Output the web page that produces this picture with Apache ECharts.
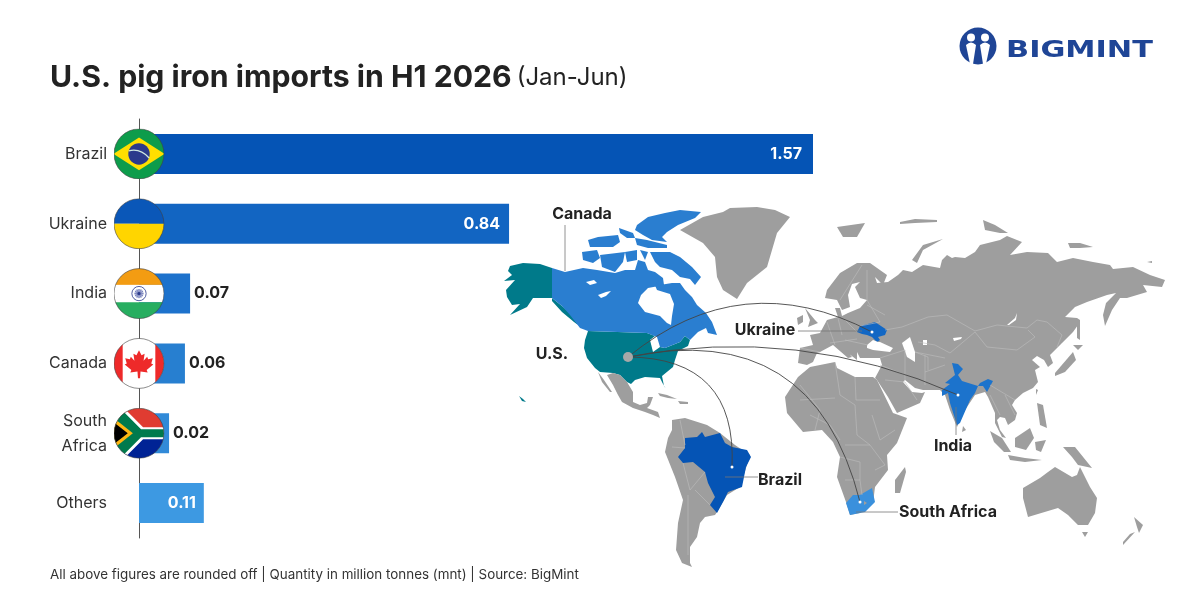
<!DOCTYPE html>
<html><head><meta charset="utf-8">
<style>html,body{margin:0;padding:0;background:#fff}#c{width:1200px;height:600px}</style>
<script src="https://cdn.jsdelivr.net/npm/echarts@6/dist/echarts.min.js"></script>
</head><body><div id="c"></div>
<script>
// ---------- chart data ----------
const categories = ['Brazil','Ukraine','India','Canada','South Africa','Others'];
// figures printed on the bars (mnt)
const printedValues = [1.57,0.84,0.07,0.06,0.02,0.11];
// bar lengths as actually drawn in the reference (it does not draw small bars to scale), on the Brazil bar's scale
const barLengths = [1.57,0.862,0.119,0.107,0.07,0.151];
const barColors = ['#0554b5','#1265c2','#1d72cc','#277fd0','#318ad8','#3d99e2'];
const labelInside = [true,true,false,false,false,true];
const labelGap = [11,9,4,4,4,8];

// ---------- flags ----------
const clip = b => `<svg xmlns="http://www.w3.org/2000/svg" width="200" height="200" viewBox="0 0 100 100"><defs><clipPath id="k"><circle cx="50" cy="50" r="49"/></clipPath></defs><g clip-path="url(#k)">${b}</g><circle cx="50" cy="50" r="49" fill="none" stroke="#444" stroke-width="1.2"/></svg>`;
const spokes = Array.from({length:12},(_,i)=>`<line x1="50" y1="50" x2="50" y2="41" stroke="#2b3a8c" stroke-width=".8" transform="rotate(${i*30} 50 50)"/>`).join('');
const flags = {
 Brazil: `<rect width="100" height="100" fill="#0d9c4b"/><polygon points="0,50 50,18 100,50 50,82" fill="#ffdf00"/><circle cx="50" cy="50" r="21" fill="#2b3a8c"/><path d="M30 44 Q52 38 70 58" stroke="#cfe8e0" stroke-width="2.5" fill="none"/>`,
 Ukraine: `<rect width="100" height="50" fill="#0a57b8"/><rect y="50" width="100" height="50" fill="#ffd500"/>`,
 India: `<rect width="100" height="33" fill="#f39c12"/><rect y="33" width="100" height="34" fill="#fff"/><rect y="67" width="100" height="33" fill="#27ae60"/><circle cx="50" cy="50" r="14" fill="#fff" stroke="#2b3a8c" stroke-width="1.6"/><circle cx="50" cy="50" r="9" fill="#b9bfe0"/>${spokes}<circle cx="50" cy="50" r="3" fill="#2b3a8c"/>`,
 Canada: `<rect width="100" height="100" fill="#fff"/><rect width="18" height="100" fill="#ee2a2a"/><rect x="82" width="18" height="100" fill="#ee2a2a"/><path fill="#ee2a2a" d="M50 24l5 10 6-3-2 14 7-8 2 5 9-2-3 10 4 2-13 11 2 5-14-2 -1 13h-4l-1-13-14 2 2-5-13-11 4-2-3-10 9 2 2-5 7 8-2-14 6 3z"/>`,
 'South Africa': `<rect width="100" height="50" fill="#e03c31"/><rect y="50" width="100" height="50" fill="#002395"/><polygon points="0,0 20,0 58,38 100,38 100,62 58,62 20,100 0,100" fill="#fff"/><polygon points="0,6 12,0 54,42 100,42 100,58 54,58 12,100 0,94" fill="#007a4d"/><polygon points="0,20 38,50 0,80" fill="#ffb612"/><polygon points="0,28 28,50 0,72" fill="#000"/>`
};
const svgUri = s => 'image://data:image/svg+xml;charset=utf-8,' + encodeURIComponent(s);

// ---------- world outline ----------
const geoShapes = {
 Greenland:[[[730,208],[757,207],[775,210],[790,217],[777,233],[772,250],[767,267],[747,283],[737,299],[723,290],[717,277],[715,257],[703,243],[680,230],[703,217],[723,212]]],
 Alaska:[[[552,268],[540,264],[523,263],[510,266],[508,271],[512,275],[504,281],[515,280],[506,290],[507,297],[512,305],[520,304],[510,315],[527,307],[533,298],[552,298],[562,306],[572,315],[578,325],[574,322],[562,312],[552,301]]],
 Hawaii:[[[519,396],[523,399],[526,402],[522,401]]],
 USA:[[[588,331],[647,333],[655,336],[650,340],[653,352],[660,347],[665,348],[680,342],[685,336],[690,340],[688,346],[678,351],[675,360],[673,367],[662,376],[664,386],[666,389],[663,384],[660,378],[645,377],[635,380],[631,384],[627,382],[620,375],[613,373],[600,372],[595,368],[587,358],[584,348],[585,340]]],
 CanadaMain:[[[552,268],[565,272],[583,268],[597,270],[615,273],[625,270],[635,270],[638,260],[645,262],[648,270],[655,272],[663,278],[664,285],[648,288],[641,295],[638,303],[645,312],[660,316],[667,323],[671,325],[672,316],[674,304],[670,294],[657,290],[654,283],[660,285],[672,283],[680,283],[685,290],[692,297],[697,305],[706,313],[712,322],[717,335],[708,333],[706,328],[698,332],[690,340],[685,336],[680,342],[665,348],[660,347],[657,337],[647,333],[588,331],[580,328],[570,315],[562,306],[552,298]]],
 Baffin:[[[650,252],[670,252],[680,257],[692,267],[701,277],[695,285],[690,279],[680,277],[672,270],[660,267],[655,262]]],
 Ellesmere:[[[637,225],[648,217],[665,213],[680,210],[701,212],[695,218],[678,225],[667,232],[662,237],[667,242],[652,240],[643,235],[635,230]]],
 Devon:[[[635,238],[647,240],[667,245],[667,248],[648,248],[637,245]]],
 Axel:[[[619,228],[633,233],[635,238],[627,238],[620,233]]],
 Parry:[[[588,240],[598,237],[618,235],[620,242],[613,247],[600,247],[590,247]]],
 Banks:[[[582,252],[597,250],[600,258],[593,263],[583,260]]],
 Victoria:[[[600,255],[625,252],[623,262],[615,272],[602,267]]],
 PrinceWales:[[[625,252],[637,250],[637,260],[627,262]]],
 Somerset:[[[640,250],[648,252],[645,260]]],
 Southampton:[[[655,280],[662,282],[660,288]]],
 Newfoundland:[[[700,319],[707,317],[709,323],[703,325]]],
 Mexico:[[[598,372],[604,380],[612,392],[610,392],[602,382]],[[613,373],[620,375],[627,382],[633,392],[633,402],[640,405],[647,403],[648,397],[653,397],[650,405],[647,408],[658,412],[660,418],[653,415],[645,412],[633,408],[622,402],[618,395],[613,385],[607,375]]],
 Cuba:[[[658,393],[667,395],[677,399],[668,398],[660,396]]],
 Hispaniola:[[[678,401],[688,402],[688,404],[680,404]]],
 SouthAmerica:[[[672,420],[685,418],[707,425],[720,433],[735,445],[750,455],[746,468],[740,487],[727,495],[717,512],[715,515],[705,517],[700,523],[697,537],[690,547],[690,563],[692,567],[682,563],[676,550],[678,523],[683,500],[675,477],[665,452],[668,438],[672,430]]],
 Brazil:[[[685,438],[697,437],[702,432],[705,437],[720,433],[725,443],[732,447],[747,450],[751,457],[746,467],[742,487],[728,492],[723,502],[717,513],[710,505],[715,497],[708,483],[705,472],[693,462],[683,463],[678,457],[685,448]]],
 Eurasia:[[[798,363],[800,348],[813,345],[810,335],[820,333],[827,320],[838,317],[835,308],[840,308],[842,316],[848,313],[860,308],[867,300],[860,298],[855,287],[860,282],[852,284],[848,295],[850,307],[842,310],[837,300],[825,298],[827,290],[840,273],[857,263],[870,263],[887,275],[883,285],[875,277],[877,283],[888,282],[898,275],[903,270],[912,272],[923,265],[940,268],[942,260],[947,255],[952,258],[955,257],[965,258],[975,252],[980,245],[1000,240],[1007,236],[1022,242],[1010,255],[1027,252],[1048,253],[1057,262],[1073,258],[1093,262],[1110,265],[1113,269],[1133,267],[1150,275],[1165,280],[1162,287],[1143,285],[1147,292],[1127,298],[1120,298],[1112,310],[1105,326],[1103,315],[1106,303],[1116,293],[1107,295],[1087,302],[1075,307],[1065,317],[1077,318],[1078,325],[1073,332],[1062,343],[1050,355],[1053,363],[1048,367],[1044,360],[1037,356],[1032,360],[1040,367],[1035,370],[1038,382],[1033,388],[1023,393],[1015,400],[1012,405],[1017,413],[1015,420],[1008,425],[1005,418],[1000,417],[997,420],[1000,430],[1006,438],[1002,437],[995,423],[995,413],[988,397],[985,392],[975,395],[965,410],[957,427],[950,410],[945,395],[940,390],[923,390],[915,388],[905,380],[903,382],[912,392],[922,393],[925,392],[920,403],[897,413],[888,397],[877,380],[875,378],[882,365],[880,358],[860,358],[857,352],[857,360],[848,353],[840,343],[852,357],[848,358],[833,345],[820,352],[817,353],[813,362],[807,365]]],
 UK:[[[805,308],[815,320],[818,323],[808,327],[810,320]]],
 Ireland:[[[797,318],[803,315],[803,322],[798,325]]],
 NovayaZemlya:[[[912,260],[923,245],[943,239],[923,250],[917,263]]],
 Severny:[[[983,220],[995,225],[1008,233],[1000,233],[985,230]]],
 Svalbard:[[[837,227],[865,223],[857,237],[843,237]]],
 Franz:[[[900,222],[915,219],[937,220],[937,222],[915,223],[900,224]]],
 Siberian:[[[1068,243],[1080,243],[1093,247],[1080,248],[1070,248]]],
 Wrangel:[[[1147,262],[1152,261],[1152,263]]],
 Sakhalin:[[[1077,318],[1080,320],[1080,340],[1077,338]]],
 Hokkaido:[[[1073,345],[1083,345],[1078,350]]],
 Honshu:[[[1055,373],[1073,352],[1076,360],[1065,372],[1055,376]]],
 Taiwan:[[[1036,389],[1038,390],[1036,395]]],
 Philippines:[[[1037,403],[1043,405],[1047,428],[1040,425]]],
 Borneo:[[[1015,438],[1030,428],[1034,438],[1026,450],[1015,447]]],
 Sumatra:[[[990,431],[1002,438],[1011,452],[1004,452],[994,442]]],
 Java:[[[1008,455],[1025,458],[1042,460],[1025,462],[1010,460]]],
 Sulawesi:[[[1035,442],[1046,440],[1041,452],[1036,450]]],
 NewGuinea:[[[1063,447],[1075,447],[1092,468],[1078,465],[1072,457]]],
 Australia:[[[1023,488],[1040,478],[1048,472],[1055,467],[1072,477],[1077,475],[1080,467],[1090,487],[1097,498],[1095,513],[1088,525],[1078,525],[1068,515],[1058,508],[1028,517],[1023,498]]],
 Tasmania:[[[1082,532],[1088,532],[1085,537]]],
 NZNorth:[[[1134,517],[1143,525],[1139,533],[1137,527]]],
 NZSouth:[[[1135,532],[1123,545],[1123,542],[1130,534]]],
 Madagascar:[[[905,467],[906,472],[900,493],[895,493],[895,480]]],
 SriLanka:[[[963,426],[966,430],[962,432]]],
 Africa:[[[785,397],[798,377],[810,367],[835,362],[837,368],[855,377],[873,377],[877,380],[893,413],[907,418],[897,443],[887,455],[888,470],[875,487],[873,503],[860,513],[850,515],[846,502],[837,477],[840,457],[833,442],[822,430],[803,432],[787,413]]],
 SouthAfrica:[[[846,503],[853,495],[860,495],[872,488],[875,502],[865,512],[850,515]]],
 Lesotho:[[[864,501],[867,503],[864,505]]],
 Ukraine:[[[857,332],[860,326],[875,322],[887,330],[885,335],[878,337],[880,340],[877,342],[872,337],[867,335],[862,334]]],
 India:[[[952,363],[958,364],[963,369],[958,375],[962,381],[978,386],[980,383],[988,379],[993,381],[987,392],[983,386],[978,386],[975,393],[970,400],[960,423],[957,425],[950,403],[948,393],[942,396],[942,390],[950,384],[945,383],[955,375]]],
 BlackSea:[[[867,345],[873,340],[878,342],[880,342],[893,348],[890,352],[873,350],[867,348]]],
 Caspian:[[[902,343],[910,337],[915,352],[915,362],[907,357]]],
 Aral:[[[923,340],[927,340],[927,345],[923,345]]],
 Balkhash:[[[953,338],[962,337],[961,339],[954,341]]],
 Baikal:[[[1007,325],[1015,318],[1017,313],[1016,320],[1009,325]]],
 GreatBear:[[[586,282],[594,280],[597,283],[590,285]]],
 GreatSlave:[[[598,295],[606,292],[611,291],[606,296],[601,298]]]
};
const regionColors = {Alaska:'#007a8a',Hawaii:'#007a8a',USA:'#007a8a',Brazil:'#0554b5',Ukraine:'#1267c4',India:'#1c73cc',SouthAfrica:'#3a90dc',
 BlackSea:'#fff',Caspian:'#fff',Aral:'#fff',Balkhash:'#fff',Baikal:'#fff',GreatBear:'#fff',GreatSlave:'#fff'};
const canadaParts = ['CanadaMain','Baffin','Ellesmere','Devon','Axel','Parry','Banks','Victoria','PrinceWales','Somerset','Southampton','Newfoundland'];
canadaParts.forEach(n=>regionColors[n]='#2a7ed0');
const countryBorders = [
 [[902,327],[928,317],[947,315],[975,331],[997,325],[1027,328],[1037,320],[1047,322],[1062,335],[1057,347]],
 [[975,332],[987,347],[1017,350],[1035,337],[1028,330]],
 [[918,342],[935,345],[950,353],[975,332]],[[928,370],[928,357],[915,352]],[[905,350],[905,380]],[[880,358],[905,350]],
 [[880,365],[905,375]],[[885,380],[905,382],[917,400]],[[925,355],[925,385]],[[925,372],[945,365]],[[915,352],[945,358]],
 [[867,270],[867,300]],[[840,300],[862,265]],[[867,300],[880,322]],[[800,348],[820,352]],[[827,322],[835,345]],[[838,318],[842,335]],
 [[830,343],[857,339]],[[845,340],[868,345]],[[845,320],[857,332]],[[860,326],[880,322]],[[867,305],[885,315]],[[885,330],[902,327]],
 [[835,362],[840,395],[855,405]],[[800,385],[820,410],[815,430]],[[855,377],[856,400],[880,400]],[[855,405],[857,435]],[[830,425],[840,440]],
 [[845,445],[870,445]],[[872,415],[880,440],[895,430]],[[845,480],[860,480],[862,495]],[[870,445],[885,465],[875,470]],[[840,457],[860,462]],
 [[800,400],[835,398]],[[810,415],[830,425]],[[857,435],[870,445]],[[860,462],[860,480]],
 [[680,420],[685,445]],[[672,447],[685,448]],[[683,463],[690,490]],[[688,495],[688,555]],[[695,490],[710,505]],[[690,490],[705,472]],
 [[990,395],[1000,415]],[[1005,395],[1015,415]],[[990,385],[1015,400]]
];
// ---------- arcs and labels on the map ----------
const origin = [628,357];
const arcs = [
 {to:[872,332],curve:0.33},{to:[958,395],curve:0.157},{to:[732,467],curve:0.52},{to:[860,502],curve:0.48}
];
const leaders = [[[565,225],[565,271]],[[798,331],[862,331]],[[956,407],[956,435]],[[725,477],[758,477]],[[856,512],[898,512]]];
const mapLabels = [
 {name:'Canada',value:[582,214]},{name:'U.S.',value:[552,354]},{name:'Ukraine',value:[765,330]},
 {name:'India',value:[953,446]},{name:'Brazil',value:[780,480]},{name:'South Africa',value:[948,512]}
];

const geojson = {type:'FeatureCollection',features:Object.keys(geoShapes).map(n=>({type:'Feature',properties:{name:n},geometry:{type:'MultiPolygon',coordinates:geoShapes[n].map(r=>[r.concat([r[0]])])}}))};
echarts.registerMap('tracedWorld',geojson);

const FONT='Inter, "Liberation Sans", sans-serif';
const logoSvg = `<svg xmlns="http://www.w3.org/2000/svg" width="160" height="160" viewBox="0 0 40 40"><circle cx="20" cy="20" r="18.5" fill="#1f4596"/><circle cx="13" cy="11.5" r="4" fill="#fff"/><circle cx="27" cy="11.5" r="4" fill="#fff"/><path d="M8 19 Q13 14 18 19 L15 38 L12 38 Z" fill="#fff"/><path d="M22 19 Q27 14 32 19 L28 38 L25 38 Z" fill="#fff"/></svg>`;

const chart = echarts.init(document.getElementById('c'),null,{renderer:'canvas'});
chart.setOption({
 animation:false,backgroundColor:'#fff',
 title:{left:50,top:63,padding:0,text:'{a|U.S. pig iron imports in H1 2026} {b|(Jan-Jun)}',
  textStyle:{rich:{a:{fontFamily:FONT,fontSize:30.2,fontWeight:700,color:'#222'},b:{fontFamily:FONT,fontSize:24,fontWeight:400,color:'#222'}}}},
 grid:{left:139,top:119,width:674,height:419},
 xAxis:{type:'value',min:0,max:1.57,show:false},
 yAxis:{type:'category',inverse:true,data:categories,
  axisLine:{show:true,lineStyle:{color:'#555',width:1}},axisTick:{show:false},
  axisLabel:{margin:32,padding:[4,0,0,0],fontFamily:FONT,fontSize:16,color:'#333',lineHeight:25,formatter:v=>v.replace(' ','\n')}},
 geo:{map:'tracedWorld',silent:true,roam:false,z:1,
  projection:{project:p=>p,unproject:p=>p},
  boundingCoords:[[0,0],[1200,600]],layoutCenter:['50%','50%'],layoutSize:1200,
  itemStyle:{areaColor:'#9e9e9e',borderColor:'transparent',borderWidth:0},
  label:{show:false},
  regions:Object.keys(regionColors).map(n=>({name:n,itemStyle:{areaColor:regionColors[n]}}))},
 series:[
  {type:'lines',coordinateSystem:'geo',polyline:true,silent:true,z:2,lineStyle:{color:'#bdbdbd',width:0.6,opacity:1},
   data:countryBorders.map(c=>({coords:c}))},
  {type:'lines',coordinateSystem:'geo',polyline:true,silent:true,z:3,lineStyle:{color:'#777',width:0.8,opacity:1},
   data:leaders.map(c=>({coords:c}))},
  {type:'lines',coordinateSystem:'geo',silent:true,z:4,lineStyle:{color:'#444',width:0.9,opacity:1},
   data:arcs.map(a=>({coords:[origin,a.to],lineStyle:{curveness:a.curve}}))},
  {type:'scatter',coordinateSystem:'geo',silent:true,z:5,symbolSize:3,itemStyle:{color:'#fff',opacity:1},
   data:arcs.map(a=>a.to)},
  {type:'scatter',coordinateSystem:'geo',silent:true,z:5,symbolSize:10,itemStyle:{color:'#a8a8a8',opacity:1},data:[origin]},
  {type:'scatter',coordinateSystem:'geo',silent:true,z:6,symbolSize:1,itemStyle:{color:'transparent',opacity:1},
   data:mapLabels,label:{show:true,opacity:1,position:'inside',formatter:'{b}',fontFamily:FONT,fontSize:16,fontWeight:700,color:'#222'}},
  {type:'bar',barWidth:40,z:7,silent:true,
   data:barLengths.map((v,i)=>({value:v,itemStyle:{color:barColors[i]},
    label:{show:true,formatter:()=>printedValues[i].toFixed(2),
     position:labelInside[i]?'insideRight':'right',distance:labelGap[i],
     color:labelInside[i]?'#fff':'#222',fontFamily:FONT,fontSize:16,fontWeight:700}}))},
  {type:'scatter',z:9,silent:true,itemStyle:{opacity:1},
   data:categories.filter(c=>flags[c]).map(c=>({value:[0,c],symbol:svgUri(clip(flags[c])),symbolSize:51}))}
 ],
 graphic:[
  {type:'image',left:958,top:26,silent:true,style:{image:'data:image/svg+xml;charset=utf-8,'+encodeURIComponent(logoSvg),width:40,height:40}},
  {type:'text',x:1006,y:40,scaleX:1.32,silent:true,style:{text:'BIGMINT',fontFamily:'"DejaVu Sans"',fontSize:23,fontWeight:700,fill:'#1f4596'}},
  {type:'text',left:50,top:568,silent:true,style:{text:'All above figures are rounded off | Quantity in million tonnes (mnt) | Source: BigMint',fontFamily:FONT,fontSize:13.4,fill:'#333'}}
 ]
});
</script></body></html>
